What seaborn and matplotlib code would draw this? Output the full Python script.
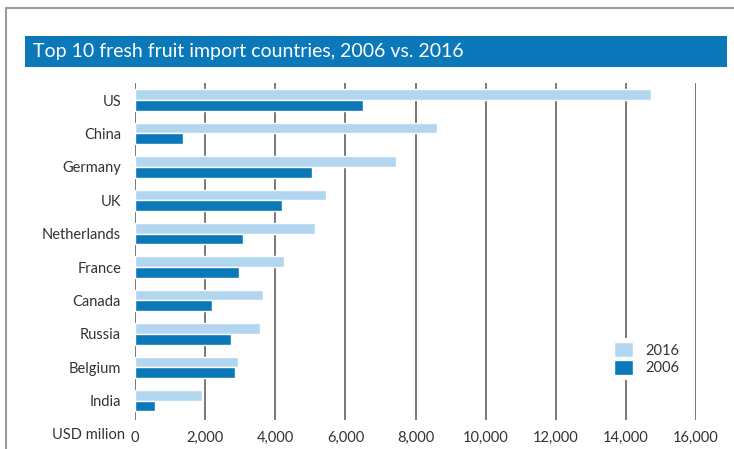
import pandas as pd
import matplotlib.pyplot as plt
import seaborn as sns
from matplotlib.lines import Line2D
from matplotlib.patches import Rectangle

# Data (USD million)
countries = ['US', 'China', 'Germany', 'UK', 'Netherlands', 'France',
             'Canada', 'Russia', 'Belgium', 'India']
imports_2016 = [14730, 8600, 7450, 5440, 5130, 4250, 3640, 3560, 2930, 1910]
imports_2006 = [6500, 1360, 5060, 4190, 3080, 2960, 2190, 2730, 2850, 570]
years = ['2016', '2006']
xticks = [0, 2000, 4000, 6000, 8000, 10000, 12000, 14000, 16000]

df = pd.DataFrame({
    'country': countries * 2,
    'value': imports_2016 + imports_2006,
    'year': ['2016'] * len(countries) + ['2006'] * len(countries),
})

sns.set_style('white')
plt.rcParams['font.family'] = ['Lato', 'DejaVu Sans']

light = '#b2d6f0'
dark = '#0b78ba'
text_col = '#333333'

fig = plt.figure(figsize=(7.34, 4.49), dpi=100)
W, H = 734, 449

def fx(px):
    return px / W

def fy(py):
    return 1 - py / H

# outer frame lines
fig.add_artist(Line2D([fx(6), fx(6)], [fy(8), 0], color='#9a9a9a', lw=1.5))
fig.add_artist(Line2D([fx(6), 1], [fy(8), fy(8)], color='#9a9a9a', lw=1.5))

# title bar
fig.add_artist(Rectangle((fx(25), fy(67)), fx(727) - fx(25), fy(36) - fy(67),
                         facecolor=dark, edgecolor='none'))
fig.text(fx(33), fy(52), 'Top 10 fresh fruit import countries, 2006 vs. 2016',
         color='white', fontsize=14, va='center', ha='left')

ax = fig.add_axes([fx(135), fy(420), fx(696) - fx(135), fy(83) - fy(420)])
sns.barplot(data=df, x='value', y='country', hue='year', hue_order=years,
            order=countries, palette=[light, dark], orient='h', width=0.64,
            saturation=1, ax=ax)

ax.set_xlim(0, 16000)
ax.set_ylim(9.58, -0.51)
ax.set_xticks(xticks)
ax.set_xticklabels([f'{v:,}' for v in xticks])
ax.set_xlabel('')
ax.set_ylabel('')
for s in ax.spines.values():
    s.set_visible(False)
ax.set_axisbelow(True)
ax.grid(axis='x', color='#6e6e6e', lw=1.3)
ax.grid(axis='y', visible=False)
ax.tick_params(axis='x', length=0, pad=8, labelsize=10.5, labelcolor=text_col)
ax.tick_params(axis='y', length=0, pad=10, labelsize=10.5, labelcolor=text_col)

fig.text(fx(125), fy(435), 'USD milion', ha='right', va='center',
         fontsize=10.5, color=text_col)

handles, labels = ax.get_legend_handles_labels()
ax.legend(handles, labels, loc='upper left',
          bbox_to_anchor=(fx(610), fy(338)), bbox_transform=fig.transFigure,
          frameon=True, facecolor='white', edgecolor='none', framealpha=1,
          fontsize=10.5, handlelength=1.3, handleheight=1.2, labelspacing=0.15,
          handletextpad=0.8, borderpad=0.3, borderaxespad=0)
for t in ax.get_legend().get_texts():
    t.set_color(text_col)

fig.savefig('out.png', dpi=100)
